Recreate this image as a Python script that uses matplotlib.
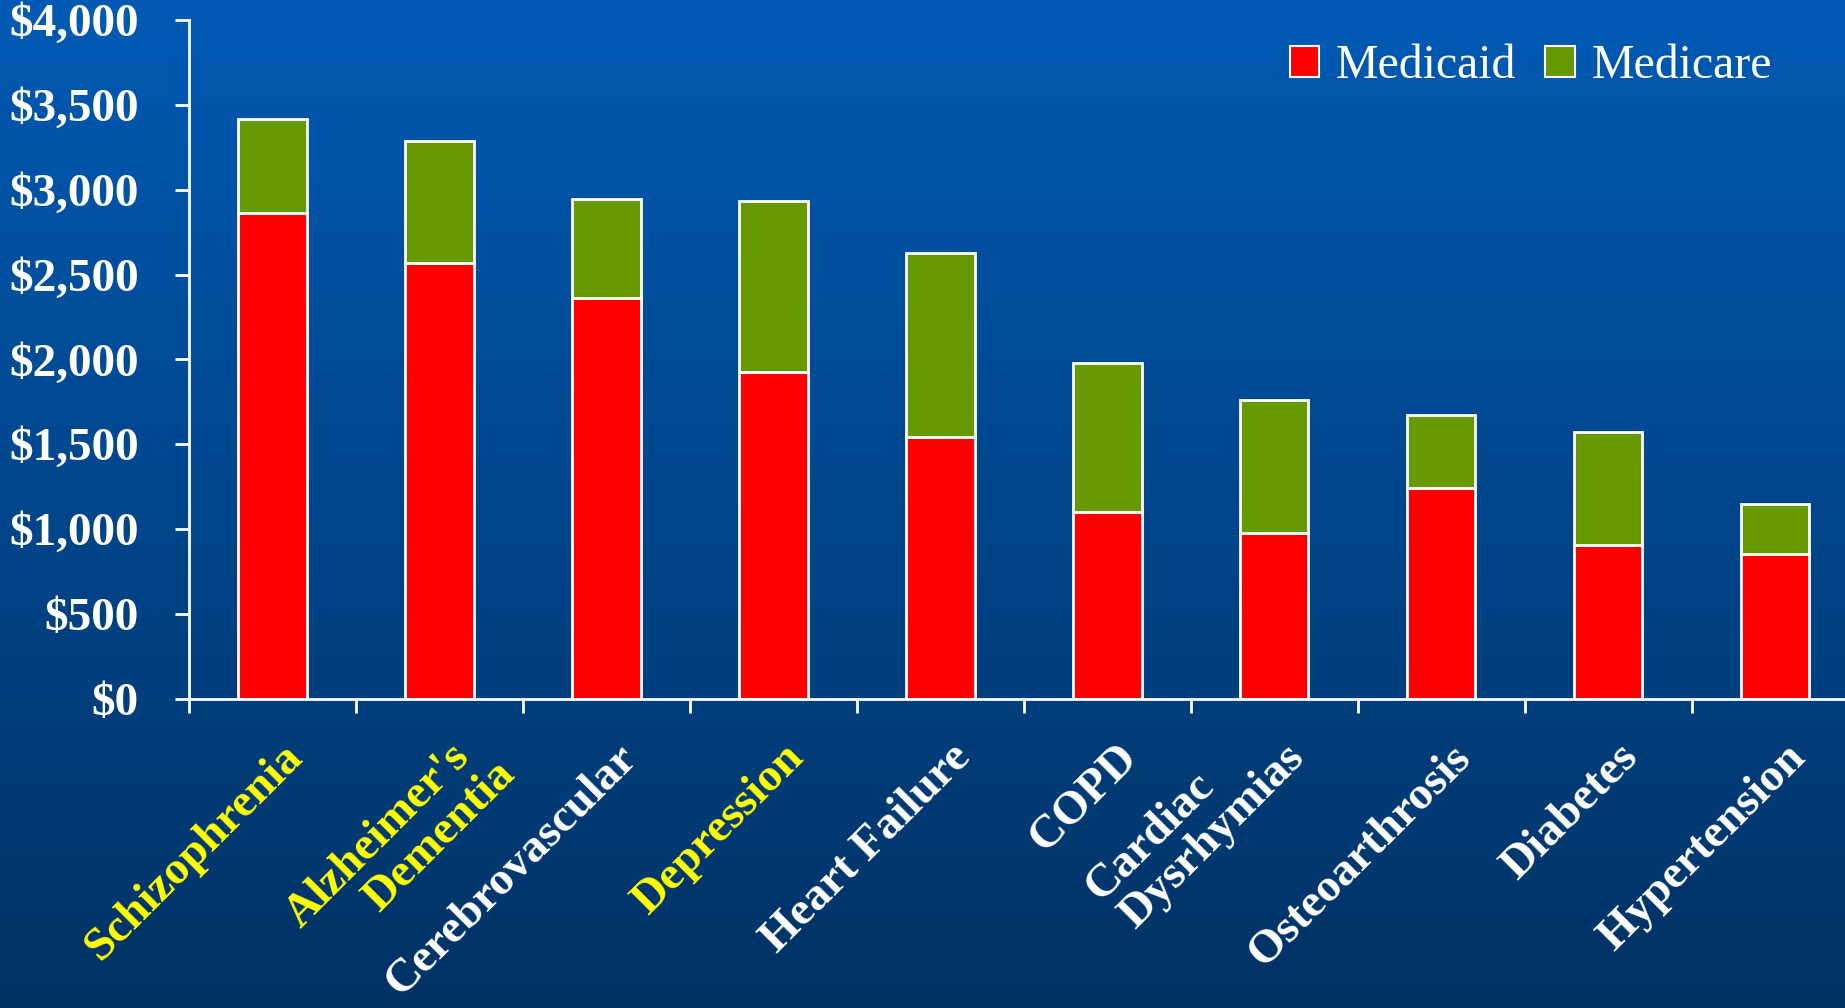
import numpy as np
import matplotlib
matplotlib.use("Agg")
import matplotlib.pyplot as plt
from matplotlib.ticker import FuncFormatter, FixedLocator
from matplotlib.patches import Patch

# annual cost per patient, by condition
conditions = ["Schizophrenia", "Alzheimer's\nDementia", "Cerebrovascular", "Depression",
              "Heart Failure", "COPD", "Cardiac\nDysrhymias", "Osteoarthrosis",
              "Diabetes", "Hypertension"]
medicaid = [2865, 2570, 2360, 1925, 1545, 1100, 975, 1245, 905, 855]
medicare = [550, 715, 585, 1010, 1085, 880, 785, 425, 665, 295]
highlight = ["Schizophrenia", "Alzheimer's\nDementia", "Depression"]

plt.rcParams["font.family"] = ["Liberation Serif", "DejaVu Serif"]

fig = plt.figure(figsize=(18.45, 10.08), dpi=100)

# blue gradient backdrop
bg = fig.add_axes([0, 0, 1, 1], zorder=-1)
top = np.array([0, 90, 180]) / 255.0
bot = np.array([0, 50, 100]) / 255.0
t = np.linspace(0, 1, 256)[:, None]
grad = (top[None, :] * (1 - t) + bot[None, :] * t)[:, None, :]
bg.imshow(grad, aspect="auto", extent=[0, 1, 0, 1])
bg.axis("off")

ax = fig.add_axes([0.1024, 0.3066, 0.905, 0.6736])
ax.patch.set_alpha(0)

x = np.arange(len(conditions))
w = 0.41
ax.bar(x, medicaid, w, color="#FF0000", edgecolor="white", linewidth=2, label="Medicaid")
ax.bar(x, medicare, w, bottom=medicaid, color="#669900", edgecolor="white", linewidth=2,
       label="Medicare")

ax.set_xlim(-0.5, len(conditions) - 0.5)
ax.set_ylim(0, 4000)
ax.set_yticks(np.arange(0, 4001, 500))
ax.yaxis.set_major_formatter(FuncFormatter(lambda v, p: "${:,.0f}".format(v)))
ax.xaxis.set_major_locator(FixedLocator(np.arange(-0.5, len(conditions), 1.0)))
ax.set_xticklabels([])

for s in ["top", "right"]:
    ax.spines[s].set_visible(False)
for s in ["left", "bottom"]:
    ax.spines[s].set_color("white")
    ax.spines[s].set_linewidth(2)

ax.tick_params(axis="y", colors="white", length=10, width=2, pad=26, labelsize=34)
ax.tick_params(axis="x", colors="white", length=10, width=2)
for lab in ax.get_yticklabels():
    lab.set_fontweight("bold")

# slanted category labels; stacked lines are centred and stepped sideways
lab_size = 34
renderer = fig.canvas.get_renderer()
u = np.array([np.cos(np.radians(45)), np.sin(np.radians(45))])
end_off = np.array([24.0, -52.0])   # right end of the longest line, px from the tick
step = np.array([62.0, 0.0])        # shift between stacked lines, px

def line_width(s):
    tmp = fig.text(0, 0, s, fontsize=lab_size, fontweight="bold")
    wd = tmp.get_window_extent(renderer).width
    tmp.remove()
    return wd

for i, name in enumerate(conditions):
    col = "#FFFF00" if name in highlight else "white"
    lines = name.split("\n")
    widths = [line_width(s) for s in lines]
    m = int(np.argmax(widths))
    cm = end_off - widths[m] / 2 * u
    for k, s in enumerate(lines):
        c = cm + (k - m) * step
        ax.annotate(s, xy=(i, 0), xycoords=("data", "axes fraction"),
                    xytext=(c[0], c[1]), textcoords="offset pixels",
                    rotation=45, rotation_mode="anchor", ha="center", va="center",
                    fontsize=lab_size, fontweight="bold", color=col,
                    annotation_clip=False)

handles = [Patch(facecolor="#FF0000", edgecolor="white", linewidth=1.5, label="Medicaid"),
           Patch(facecolor="#669900", edgecolor="white", linewidth=1.5, label="Medicare")]
leg = ax.legend(handles=handles, loc="upper right", bbox_to_anchor=(0.974, 1.028), ncol=2,
                frameon=False, fontsize=34.5, handlelength=0.62, handleheight=0.62,
                handletextpad=0.35, columnspacing=0.6)
for txt in leg.get_texts():
    txt.set_color("white")

fig.savefig("out.png", dpi=100)
